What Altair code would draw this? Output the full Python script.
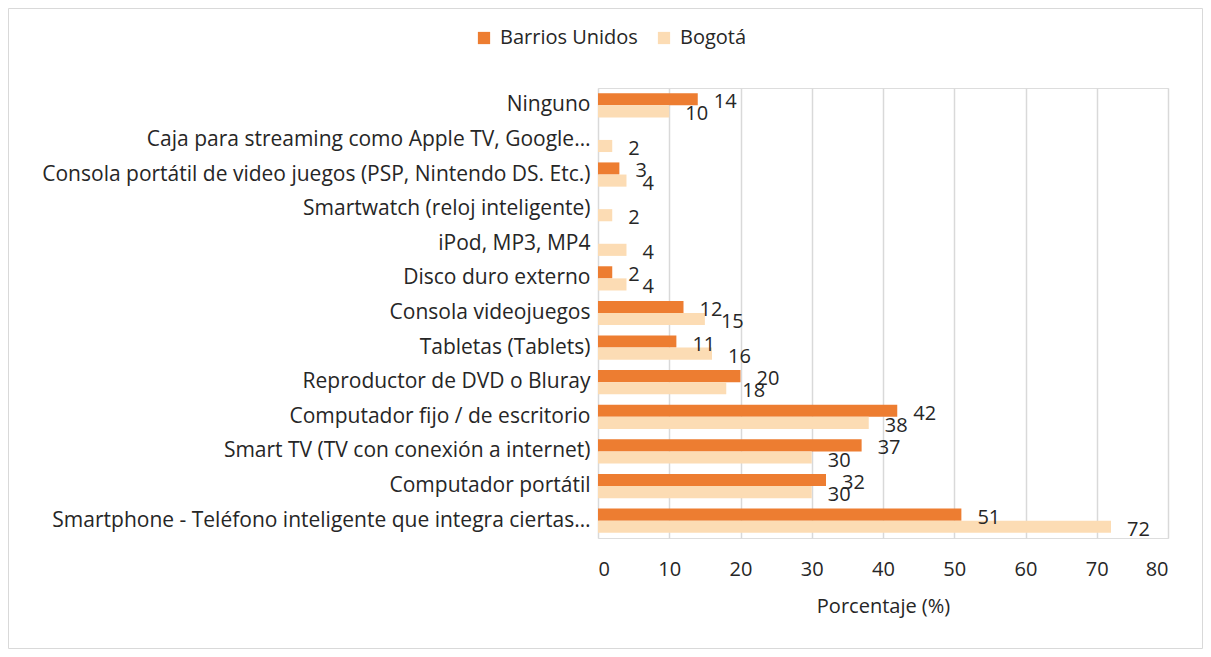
import altair as alt
import pandas as pd

categories = [
    "Ninguno ",
    "Caja para streaming como Apple TV, Google…",
    "Consola portátil de video juegos (PSP, Nintendo DS. Etc.)",
    "Smartwatch (reloj inteligente)",
    "iPod, MP3, MP4",
    "Disco duro externo",
    "Consola videojuegos ",
    "Tabletas (Tablets)",
    "Reproductor de DVD o Bluray",
    "Computador fijo / de escritorio",
    "Smart TV (TV con conexión a internet)",
    "Computador portátil",
    "Smartphone - Teléfono inteligente que integra ciertas…",
]
barrios = [14, None, 3, None, None, 2, 12, 11, 20, 42, 37, 32, 51]
bogota = [10, 2, 4, 2, 4, 4, 15, 16, 18, 38, 30, 30, 72]
series = ["Barrios Unidos", "Bogotá"]
colors = ["#ED7D31", "#FCDCB4"]
x_ticks = [0, 10, 20, 30, 40, 50, 60, 70, 80]

rows = []
for c, b, g in zip(categories, barrios, bogota):
    if b is not None:
        rows.append({"cat": c, "serie": series[0], "val": b})
    if g is not None:
        rows.append({"cat": c, "serie": series[1], "val": g})
df = pd.DataFrame(rows)

FONT = "Open Sans"
TXT = "#262626"
FS = 20

y = alt.Y(
    "cat:N",
    sort=categories,
    scale=alt.Scale(paddingInner=0.3, paddingOuter=0.15),
    axis=alt.Axis(title=None, ticks=False, domain=False, grid=False,
                  labelFontSize=21, labelColor=TXT, labelFont=FONT,
                  labelPadding=8, labelLimit=0),
)
x = alt.X(
    "val:Q",
    scale=alt.Scale(domain=[0, 80], nice=False),
    axis=alt.Axis(values=x_ticks, title="Porcentaje (%)", grid=True,
                  gridColor="#d9d9d9", gridWidth=1.5, domain=False, ticks=False,
                  labelFontSize=FS, labelColor=TXT, labelFont=FONT,
                  labelPadding=21, titleFontSize=FS, titleFont=FONT,
                  titleColor=TXT, titleFontWeight="normal", titlePadding=17),
)
yoff = alt.YOffset("serie:N", sort=series)

bars = alt.Chart(df).mark_bar().encode(
    x=x, y=y, yOffset=yoff,
    color=alt.Color("serie:N", sort=series,
                    scale=alt.Scale(domain=series, range=colors),
                    legend=alt.Legend(title=None, orient="none", legendX=-124,
                                      legendY=-60, direction="horizontal",
                                      symbolType="square", symbolSize=150,
                                      symbolStrokeWidth=0,
                                      labelFontSize=FS, labelFont=FONT,
                                      labelColor=TXT, columnPadding=16,
                                      labelOffset=6)),
)

labels = alt.Chart(df).mark_text(
    align="left", baseline="middle", dx=16, dy=3, fontSize=FS,
    font=FONT, color=TXT,
).encode(x=x, y=y, yOffset=yoff, text=alt.Text("val:Q", format="d"))

frame = alt.Chart(pd.DataFrame({"a": [0]})).mark_rect(
    fill=None, stroke="#d9d9d9", strokeWidth=1
).encode(
    x=alt.value(-589.5), x2=alt.value(604.5),
    y=alt.value(-79.5), y2=alt.value(560.5),
)

chart = alt.layer(bars, labels, frame).properties(
    width=570, height=450,
    autosize=alt.AutoSizeParams(type="none"),
    padding={"left": 590, "top": 80, "right": 35, "bottom": 111},
).configure_view(stroke=None).configure(font=FONT)

chart.save("out.html", embed_options={"renderer": "svg", "actions": False})
